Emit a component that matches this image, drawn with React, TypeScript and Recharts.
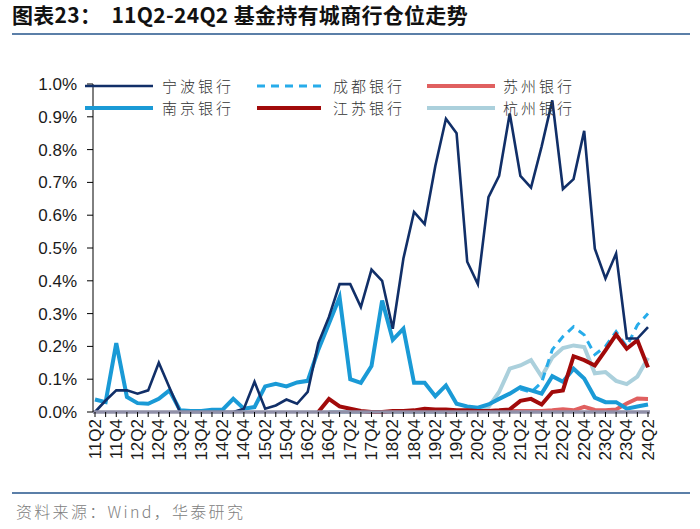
import React from "react"
import { LineChart, Line, XAxis, YAxis, ReferenceLine } from "recharts"

const quarters = [
  "11Q2", "11Q3", "11Q4", "12Q1", "12Q2", "12Q3", "12Q4", "13Q1", "13Q2", "13Q3", "13Q4",
  "14Q1", "14Q2", "14Q3", "14Q4", "15Q1", "15Q2", "15Q3", "15Q4", "16Q1", "16Q2", "16Q3",
  "16Q4", "17Q1", "17Q2", "17Q3", "17Q4", "18Q1", "18Q2", "18Q3", "18Q4", "19Q1", "19Q2",
  "19Q3", "19Q4", "20Q1", "20Q2", "20Q3", "20Q4", "21Q1", "21Q2", "21Q3", "21Q4", "22Q1",
  "22Q2", "22Q3", "22Q4", "23Q1", "23Q2", "23Q3", "23Q4", "24Q1", "24Q2",
]

// values in %
const ningbo = [
  0.0, 0.035, 0.066, 0.066, 0.056, 0.066, 0.15, 0.075, 0.0, 0.0, 0.0,
  0.0, 0.0, 0.0, 0.01, 0.092, 0.01, 0.02, 0.038, 0.025, 0.061, 0.21,
  0.29, 0.39, 0.39, 0.32, 0.434, 0.4, 0.254, 0.468, 0.61, 0.573, 0.75,
  0.894, 0.85, 0.458, 0.39, 0.655, 0.72, 0.91, 0.72, 0.684, 0.81, 0.95,
  0.68, 0.71, 0.857, 0.498, 0.407, 0.483, 0.224, 0.224, 0.259,
]
const nanjing = [
  0.038, 0.03, 0.21, 0.046, 0.027, 0.025, 0.04, 0.066, 0.005, 0.003, 0.003,
  0.007, 0.007, 0.04, 0.01, 0.015, 0.078, 0.086, 0.078, 0.09, 0.095, 0.19,
  0.27, 0.35, 0.1, 0.089, 0.14, 0.34, 0.22, 0.254, 0.089, 0.089, 0.048,
  0.081, 0.025, 0.017, 0.013, 0.023, 0.04, 0.056, 0.076, 0.066, 0.056, 0.109,
  0.092, 0.132, 0.102, 0.044, 0.03, 0.03, 0.01, 0.017, 0.023,
]
const jiangsu = [
  null, null, null, null, null, null, null, null, null, null, null,
  null, null, null, null, null, null, null, null, null, null, 0.0,
  0.04, 0.017, 0.01, 0.003, 0.0, 0.0, 0.003, 0.003, 0.005, 0.01, 0.008,
  0.008, 0.005, 0.005, 0.003, 0.003, 0.005, 0.008, 0.034, 0.04, 0.023, 0.061,
  0.066, 0.17, 0.158, 0.142, 0.188, 0.236, 0.193, 0.219, 0.136,
]
const hangzhou = [
  null, null, null, null, null, null, null, null, null, null, null,
  null, null, null, null, null, null, null, null, null, null, null,
  0.0, 0.0, 0.0, 0.0, 0.0, 0.0, 0.0, 0.0, 0.0, 0.0, 0.0,
  0.0, 0.0, 0.0, 0.005, 0.015, 0.061, 0.132, 0.142, 0.158, 0.108, 0.166,
  0.195, 0.203, 0.198, 0.118, 0.122, 0.095, 0.085, 0.108, 0.165,
]
const chengdu = [
  null, null, null, null, null, null, null, null, null, null, null,
  null, null, null, null, null, null, null, null, null, null, null,
  null, null, null, null, null, null, null, null, null, null, null,
  null, null, null, null, null, null, null, 0.07, 0.06, 0.09, 0.19,
  0.23, 0.26, 0.235, 0.175, 0.2, 0.245, 0.2, 0.265, 0.3,
]
const suzhou = [
  null, null, null, null, null, null, null, null, null, null, null,
  null, null, null, null, null, null, null, null, null, null, null,
  null, null, null, null, null, null, null, null, null, null, null,
  0.0, 0.003, 0.003, 0.003, 0.003, 0.003, 0.003, 0.003, 0.003, 0.003, 0.005,
  0.008, 0.005, 0.016, 0.006, 0.005, 0.008, 0.026, 0.041, 0.04,
]

const yTicks = [0, 0.1, 0.2, 0.3, 0.4, 0.5, 0.6, 0.7, 0.8, 0.9, 1.0]

const chartData = quarters.map((q, i) => ({
  q,
  ningbo: ningbo[i],
  nanjing: nanjing[i],
  jiangsu: jiangsu[i],
  hangzhou: hangzhou[i],
  chengdu: chengdu[i],
  suzhou: suzhou[i],
}))

// draw order: first = bottom
const series = [
  { key: "hangzhou", name: "杭州银行", color: "#abd0dc", width: 4, dash: undefined },
  { key: "chengdu", name: "成都银行", color: "#27acea", width: 3, dash: "8 6" },
  { key: "suzhou", name: "苏州银行", color: "#e06060", width: 4, dash: undefined },
  { key: "nanjing", name: "南京银行", color: "#1a9ad6", width: 4, dash: undefined },
  { key: "jiangsu", name: "江苏银行", color: "#a10a0a", width: 4, dash: undefined },
  { key: "ningbo", name: "宁波银行", color: "#112f68", width: 2.6, dash: undefined },
]

// legend layout: rows of three
const legendRows = [
  ["ningbo", "chengdu", "suzhou"],
  ["nanjing", "jiangsu", "hangzhou"],
]
const legendCols = [
  { lineX: 85, lineW: 68, textX: 162 },
  { lineX: 257, lineW: 64, textX: 333 },
  { lineX: 427, lineW: 68, textX: 503 },
]
const legendRowY = [86, 108]

const XTick = (props: any) => {
  const { x, y, payload, index } = props
  if (index % 2 !== 0) return null
  return (
    <text
      x={x}
      y={y}
      transform={`rotate(-90 ${x} ${y})`}
      textAnchor="end"
      dominantBaseline="central"
      fontSize={17}
      fontFamily="Liberation Sans, Arial, sans-serif"
      fill="#1a1a1a"
    >
      {payload.value}
    </text>
  )
}

export default function App() {
  return (
    <div
      style={{
        position: "absolute",
        left: 0,
        top: 0,
        width: 700,
        height: 529,
        background: "#fff",
        overflow: "hidden",
      }}
    >
      {/* title */}
      <div
        style={{
          position: "absolute",
          left: 12,
          top: 3,
          fontFamily: "Noto Sans CJK SC, sans-serif",
          fontWeight: 700,
          fontSize: 21,
          lineHeight: "22px",
          letterSpacing: 0.3,
          color: "#111",
          whiteSpace: "pre",
        }}
      >
        {"图表23：  11Q2-24Q2 基金持有城商行仓位走势"}
      </div>
      <div style={{ position: "absolute", left: 12, top: 33, width: 678, height: 2, background: "#5b7fa8" }} />

      <div style={{ position: "absolute", left: 0, top: 0 }}>
        <LineChart
          width={700}
          height={480}
          data={chartData}
          margin={{ top: 84, right: 50, left: 0, bottom: 0 }}
        >
          <XAxis
            dataKey="q"
            interval={0}
            height={68}
            padding={{ left: 2, right: 2 }}
            axisLine={{ stroke: "#9090a8", strokeWidth: 3 }}
            tickLine={{ stroke: "#000" }}
            tickSize={5}
            tick={<XTick />}
          />
          <YAxis
            domain={[0, 1]}
            ticks={yTicks}
            width={93}
            tickFormatter={(v: number) => `${v.toFixed(1)}%`}
            axisLine={{ stroke: "#000" }}
            tickLine={{ stroke: "#000" }}
            tickSize={6}
            tickMargin={10}
            tick={{ fill: "#1a1a1a", fontSize: 17, fontFamily: "Liberation Sans, Arial, sans-serif" }}
            interval={0}
          />
          {series.map((s) => (
            <Line
              key={s.key}
              dataKey={s.key}
              name={s.name}
              type="linear"
              stroke={s.color}
              strokeWidth={s.width}
              strokeDasharray={s.dash}
              dot={false}
              activeDot={false}
              connectNulls={false}
              isAnimationActive={false}
            />
          ))}
          <ReferenceLine y={0} stroke="#9090a8" strokeWidth={3} />
        </LineChart>
      </div>

      {/* legend */}
      {legendRows.map((row, r) =>
        row.map((key, c) => {
          const s = series.find((d) => d.key === key)!
          const col = legendCols[c]
          const y = legendRowY[r]
          return (
            <React.Fragment key={key}>
              <svg
                style={{ position: "absolute", left: col.lineX, top: y - 5 }}
                width={col.lineW}
                height={10}
              >
                <line
                  x1={0}
                  y1={5}
                  x2={col.lineW}
                  y2={5}
                  stroke={s.color}
                  strokeWidth={s.width}
                  strokeDasharray={s.dash}
                />
              </svg>
              <div
                style={{
                  position: "absolute",
                  left: col.textX,
                  top: y - 9,
                  fontFamily: "Noto Sans CJK SC, sans-serif",
                  fontWeight: 300,
                  fontSize: 15,
                  lineHeight: "18px",
                  letterSpacing: 3,
                  color: "#333",
                  whiteSpace: "nowrap",
                }}
              >
                {s.name}
              </div>
            </React.Fragment>
          )
        })
      )}

      {/* source */}
      <div style={{ position: "absolute", left: 12, top: 492, width: 678, height: 2, background: "#5b7fa8" }} />
      <div
        style={{
          position: "absolute",
          left: 16,
          top: 501,
          fontFamily: "Noto Sans CJK SC, sans-serif",
          fontWeight: 300,
          fontSize: 16,
          lineHeight: "20px",
          letterSpacing: 2.3,
          color: "#808080",
          whiteSpace: "nowrap",
        }}
      >
        资料来源：Wind，华泰研究
      </div>
    </div>
  )
}
